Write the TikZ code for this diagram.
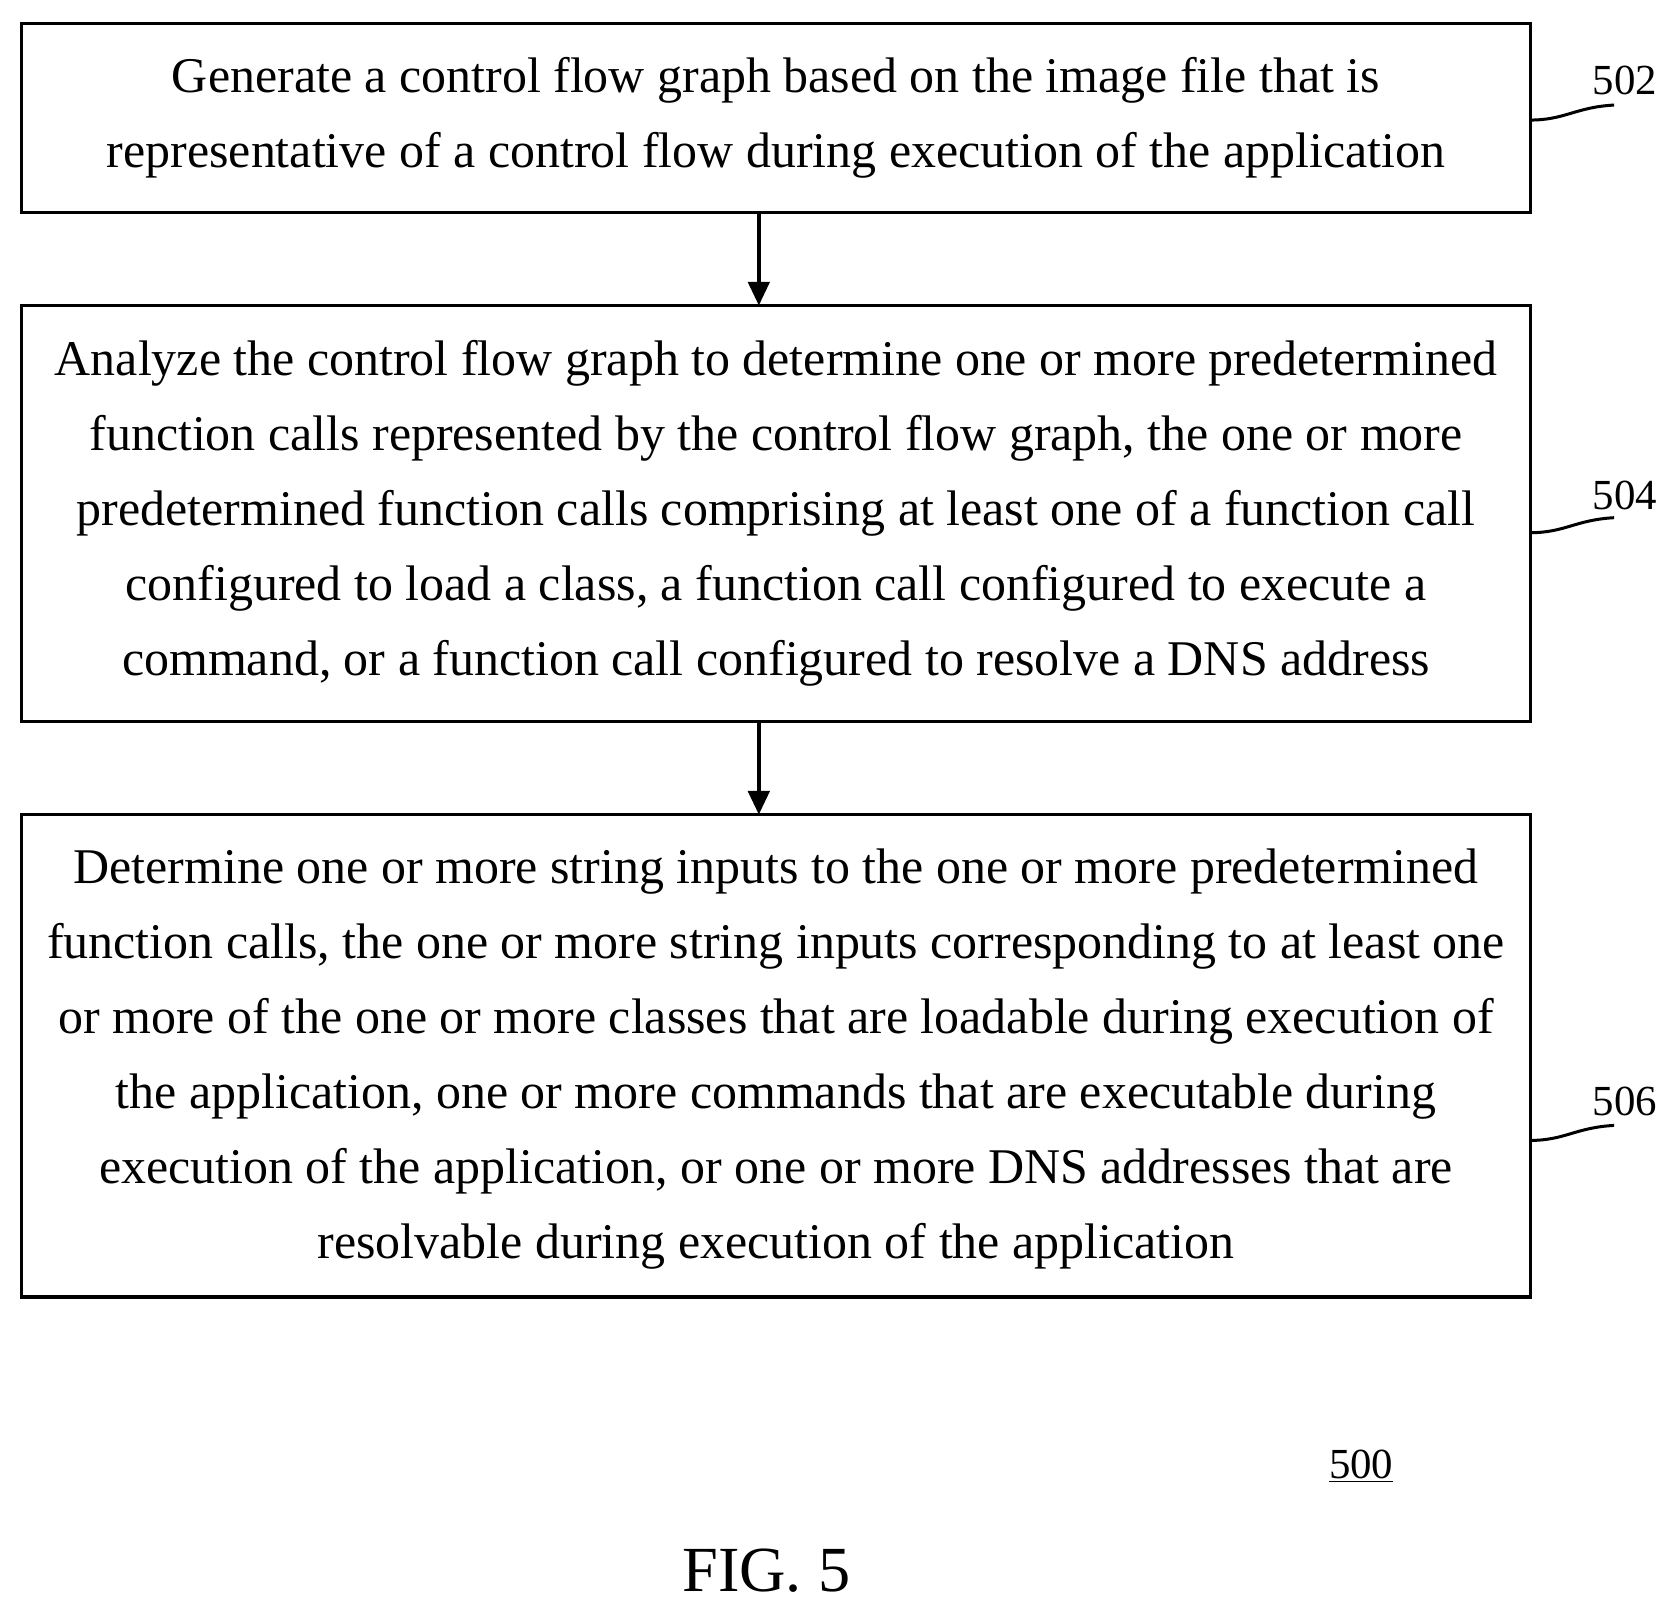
\documentclass[tikz,border=0pt]{standalone}
\usepackage{fontspec}
\setmainfont{Liberation Serif}
\usetikzlibrary{arrows.meta}
\begin{document}
\begin{tikzpicture}[x=0.5pt,y=-0.5pt,
 box/.style={align=center,font=\fontsize{23.3}{35}\selectfont,inner sep=0pt},
 frame/.style={draw,line width=1.6pt},
 lab/.style={font=\fontsize{20}{22}\selectfont},
 arr/.style={line width=1.6pt,-{Triangle[length=11pt,width=10pt]}},
 lead/.style={line width=1.4pt}]
\useasboundingbox (0,0) rectangle (1560,1500);
\path[frame] (20,22) rectangle (1428,198);
\node[box] (b1) at (724,110) {Generate a control flow graph based on the image file that is\\ representative of a control flow during execution of the application};
\path[frame] (20,285) rectangle (1428,673);
\node[box] (b2) at (724,479) {Analyze the control flow graph to determine one or more predetermined\\ function calls represented by the control flow graph, the one or more\\ predetermined function calls comprising at least one of a function call\\ configured to load a class, a function call configured to execute a\\ command, or a function call configured to resolve a DNS address};
\path[frame] (20,760) rectangle (1428,1210);
\node[box] (b3) at (724,988) {Determine one or more string inputs to the one or more predetermined\\ function calls, the one or more string inputs corresponding to at least one\\ or more of the one or more classes that are loadable during execution of\\ the application, one or more commands that are executable during\\ execution of the application, or one or more DNS addresses that are\\ resolvable during execution of the application};
\coordinate (a1) at (708,198); \coordinate (a2) at (708,285);
\coordinate (a3) at (708,673); \coordinate (a4) at (708,760);
\draw[arr] (a1) -- (a2);
\draw[arr] (a3) -- (a4);
\node[lab] (l502) at (1516,75) {502};
\node[lab] (l504) at (1516,462) {504};
\node[lab] (l506) at (1516,1028) {506};
\coordinate (c1) at (1428,112); \coordinate (c2) at (1428,497); \coordinate (c3) at (1428,1064);
\draw[lead] (c1) .. controls (1460,112) and (1470,100) .. (1506,98);
\draw[lead] (c2) .. controls (1460,497) and (1470,485) .. (1506,483);
\draw[lead] (c3) .. controls (1460,1064) and (1470,1052) .. (1506,1050);
\node[lab] (l500) at (1270,1368) {\underline{500}};
\node[font=\fontsize{30}{34}\selectfont] (fig) at (715,1465) {FIG. 5};
\end{tikzpicture}
\end{document}
